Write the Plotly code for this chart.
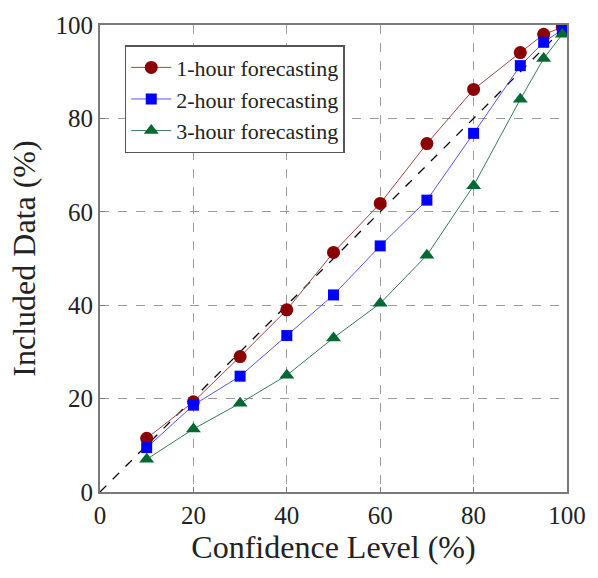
import plotly.graph_objects as go

conf = [10, 20, 30, 40, 50, 60, 70, 80, 90, 95, 99]
h1 = [11.5, 19.3, 29.0, 39.0, 51.3, 61.8, 74.6, 86.2, 94.1, 98.0, 99.5]
h2 = [9.5, 18.6, 24.8, 33.5, 42.2, 52.7, 62.5, 76.8, 91.3, 96.3, 99.0]
h3 = [7.0, 13.5, 19.0, 25.0, 33.0, 40.4, 50.7, 65.6, 84.1, 92.8, 98.0]
diag = [0, 100]
ticks = [0, 20, 40, 60, 80, 100]

fig = go.Figure()
fig.add_trace(go.Scatter(x=diag, y=diag, mode="lines", showlegend=False,
                         line=dict(color="black", width=1.3, dash="dash"), hoverinfo="skip"))
fig.add_trace(go.Scatter(x=conf, y=h1, mode="lines+markers", name="1-hour forecasting",
                         line=dict(color="#a84444", width=1),
                         marker=dict(symbol="circle", size=13, color="#8b0000")))
fig.add_trace(go.Scatter(x=conf, y=h2, mode="lines+markers", name="2-hour forecasting",
                         line=dict(color="#5555ff", width=1),
                         marker=dict(symbol="square", size=11, color="#0000ff")))
fig.add_trace(go.Scatter(x=conf, y=h3, mode="lines+markers", name="3-hour forecasting",
                         line=dict(color="#3a7a55", width=1),
                         marker=dict(symbol="triangle-up", size=13, color="#006a32")))

font = "Liberation Serif, Times New Roman, serif"
axis_common = dict(range=[0, 100], tickvals=ticks, showgrid=True, gridcolor="#9a9a9a",
                   griddash="dash", gridwidth=1, zeroline=False, showline=True,
                   linecolor="#7a7a7a", linewidth=2, mirror=True, ticks="inside",
                   ticklen=5, tickcolor="#7a7a7a", tickfont=dict(size=25, color="#222"))
fig.update_xaxes(**axis_common, title=dict(text="Confidence Level (%)", font=dict(size=32, color="#222"), standoff=8))
fig.update_yaxes(**axis_common, title=dict(text="Included Data (%)", font=dict(size=32, color="#222"), standoff=10))

fig.update_layout(
    width=598, height=578,
    margin=dict(l=100, r=25, t=22, b=86),
    paper_bgcolor="white", plot_bgcolor="white",
    font=dict(family=font, color="#222"),
    legend=dict(x=0.053, y=0.957, xanchor="left", yanchor="top",
                bgcolor="white", bordercolor="#555", borderwidth=1.5,
                font=dict(size=22, color="#222"), tracegroupgap=0, itemwidth=40),
)
fig.write_html("out.html")
